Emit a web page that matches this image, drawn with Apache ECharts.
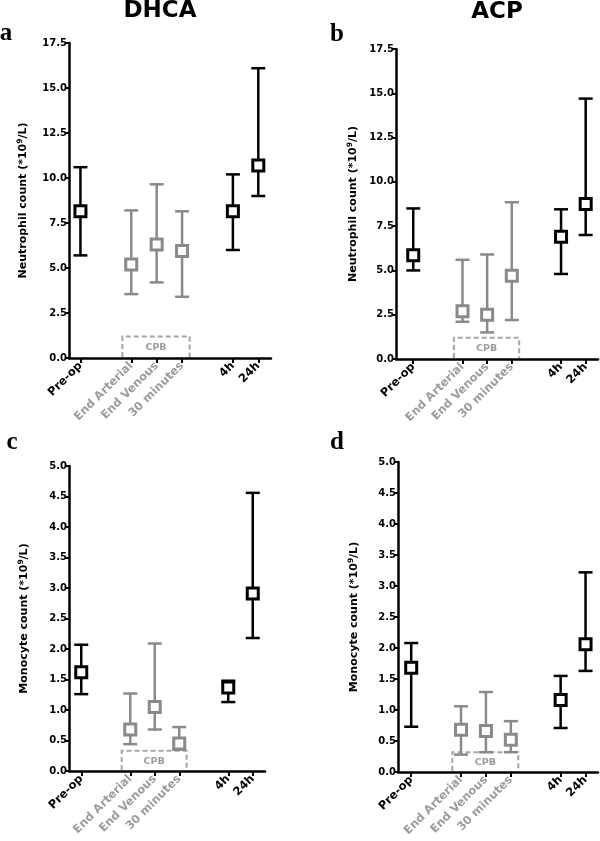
<!DOCTYPE html>
<html><head><meta charset="utf-8">
<script src="https://cdn.jsdelivr.net/npm/echarts@6/dist/echarts.min.js"></script>
<style>html,body{margin:0;padding:0;background:#fff}#c{width:600px;height:841px}</style>
</head><body><div id="c"></div>
<script>
// ---- data ----
const categories = ['Pre-op', 'End Arterial', 'End Venous', '30 minutes', '4h', '24h'];
const slots = [1, 3, 4, 5, 7, 8];               // ordinal slot of each category (gaps between phases)
const cpbCategories = ['End Arterial', 'End Venous', '30 minutes'];

const neutroDHCA_mid  = [8.15, 5.2, 6.3, 5.95, 8.15, 10.7];
const neutroDHCA_low  = [5.7, 3.55, 4.2, 3.4, 6.0, 9.0];
const neutroDHCA_high = [10.6, 8.2, 9.65, 8.15, 10.2, 16.1];

const neutroACP_mid  = [5.85, 2.7, 2.5, 4.7, 6.9, 8.75];
const neutroACP_low  = [5.0, 2.1, 1.5, 2.2, 4.8, 7.0];
const neutroACP_high = [8.5, 5.6, 5.9, 8.85, 8.45, 14.7];

const monoDHCA_mid  = [1.62, 0.68, 1.05, 0.45, 1.37, 2.91];
const monoDHCA_low  = [1.26, 0.44, 0.68, 0.35, 1.13, 2.18];
const monoDHCA_high = [2.07, 1.27, 2.09, 0.72, 1.48, 4.56];

const monoACP_mid  = [1.68, 0.68, 0.66, 0.52, 1.16, 2.06];
const monoACP_low  = [0.73, 0.28, 0.32, 0.32, 0.71, 1.63];
const monoACP_high = [2.08, 1.06, 1.29, 0.82, 1.55, 3.22];

const cpbBoxTop = [1.2, 1.2, 0.33, 0.32];
const neutroTicks = [0, 17.5, 2.5];
const monoTicks = [0, 5, 0.5];

// ---- styles ----
const FONT = '"DejaVu Sans", "Liberation Sans", Arial, sans-serif';
const BLACK = '#000000', GREY = '#8a8a8a', BOXGREY = '#a6a6a6', LABELGREY = '#9c9c9c';

const chart = echarts.init(document.getElementById('c'), null, {renderer: 'canvas'});

const panels = [
  {grid: {left: 69, top: 43, width: 202, height: 315}, xmin: 0.55, xmax: 8.5, ticks: neutroTicks,
   yname: 'Neutrophil count (*10', nameGap: 39, mid: neutroDHCA_mid, low: neutroDHCA_low, high: neutroDHCA_high, box: cpbBoxTop[0]},
  {grid: {left: 396, top: 49, width: 202, height: 310}, xmin: 0.3, xmax: 8.5, ticks: neutroTicks,
   yname: 'Neutrophil count (*10', nameGap: 36, mid: neutroACP_mid, low: neutroACP_low, high: neutroACP_high, box: cpbBoxTop[1]},
  {grid: {left: 69, top: 466, width: 196, height: 305}, xmin: 0.5, xmax: 8.5, ticks: monoTicks,
   yname: 'Monocyte count (*10', nameGap: 38, mid: monoDHCA_mid, low: monoDHCA_low, high: monoDHCA_high, box: cpbBoxTop[2]},
  {grid: {left: 398, top: 462, width: 200, height: 310}, xmin: 0.47, xmax: 8.5, ticks: monoTicks,
   yname: 'Monocyte count (*10', nameGap: 37, mid: monoACP_mid, low: monoACP_low, high: monoACP_high, box: cpbBoxTop[3]}
];

const isCpb = name => cpbCategories.indexOf(name) >= 0;
const grids = [], xAxes = [], yAxes = [], series = [];

panels.forEach((p, i) => {
  grids.push(Object.assign({containLabel: false}, p.grid));
  xAxes.push({
    type: 'value', gridIndex: i, min: p.xmin, max: p.xmax,
    axisLine: {show: true, onZero: false, lineStyle: {color: BLACK, width: 2.5}},
    axisTick: {show: true, customValues: slots, length: 5, lineStyle: {color: BLACK, width: 2}},
    axisLabel: {
      show: true, customValues: slots, rotate: 45, margin: 6,
      formatter: v => {
        const k = slots.indexOf(Math.round(v));
        if (k < 0) return '';
        const n = categories[k];
        return isCpb(n) ? '{g|' + n + '}' : '{k|' + n + '}';
      },
      rich: {
        g: {color: LABELGREY, fontFamily: FONT, fontWeight: 'bold', fontSize: 11.5},
        k: {color: BLACK, fontFamily: FONT, fontWeight: 'bold', fontSize: 11.5}
      }
    },
    splitLine: {show: false}
  });
  yAxes.push({
    type: 'value', gridIndex: i, min: p.ticks[0], max: p.ticks[1], interval: p.ticks[2],
    name: '{a|' + p.yname + '}{s|9}{a|/L)}',
    nameLocation: 'middle', nameGap: p.nameGap, nameRotate: 90,
    nameTextStyle: {
      rich: {
        a: {fontFamily: FONT, fontWeight: 'bold', fontSize: 11, color: BLACK, lineHeight: 14},
        s: {fontFamily: FONT, fontWeight: 'bold', fontSize: 7.5, color: BLACK, verticalAlign: 'top', lineHeight: 14, padding: [0, 0, 4, 0]}
      }
    },
    axisLine: {show: true, lineStyle: {color: BLACK, width: 2.5}},
    axisTick: {show: true, length: 4, lineStyle: {color: BLACK, width: 2}},
    axisLabel: {fontFamily: FONT, fontWeight: 'bold', fontSize: 10, color: BLACK, margin: 2,
                formatter: v => v.toFixed(1)},
    splitLine: {show: false}
  });

  // CPB dashed box
  const firstC = slots[categories.indexOf(cpbCategories[0])];
  const lastC = slots[categories.indexOf(cpbCategories[cpbCategories.length - 1])];
  series.push({
    type: 'custom', xAxisIndex: i, yAxisIndex: i, z: 1, silent: true,
    data: [[firstC, lastC, p.box]],
    renderItem: (params, api) => {
      const l = api.coord([api.value(0) - 0.35, api.value(2)]);
      const r = api.coord([api.value(1) + 0.3, 0]);
      const b = r[1], t = l[1];
      return {
        type: 'group', children: [
          {type: 'polyline', shape: {points: [[l[0], b - 1], [l[0], t], [r[0], t], [r[0], b - 1]]},
           style: {fill: null, stroke: BOXGREY, lineWidth: 2, lineDash: [5, 3]}},
          {type: 'text', x: (l[0] + r[0]) / 2, y: (t + b) / 2 + 0.5,
           style: {text: 'CPB', fill: LABELGREY, font: 'bold 9.5px ' + FONT, align: 'center', verticalAlign: 'middle'}}
        ]
      };
    }
  });

  // error bars
  series.push({
    type: 'custom', xAxisIndex: i, yAxisIndex: i, z: 2, silent: true,
    data: categories.map((n, k) => [slots[k], p.low[k], p.high[k], isCpb(n) ? 1 : 0]),
    renderItem: (params, api) => {
      const x = api.value(0);
      const lo = api.coord([x, api.value(1)]);
      const hi = api.coord([x, api.value(2)]);
      const col = api.value(3) ? GREY : BLACK;
      const w = 7;
      const st = {stroke: col, lineWidth: 2.5, fill: null};
      return {
        type: 'group', children: [
          {type: 'line', shape: {x1: lo[0], y1: lo[1], x2: hi[0], y2: hi[1]}, style: st},
          {type: 'line', shape: {x1: lo[0] - w, y1: lo[1], x2: lo[0] + w, y2: lo[1]}, style: st},
          {type: 'line', shape: {x1: hi[0] - w, y1: hi[1], x2: hi[0] + w, y2: hi[1]}, style: st}
        ]
      };
    }
  });

  // median squares
  series.push({
    type: 'scatter', xAxisIndex: i, yAxisIndex: i, z: 3, silent: true,
    symbol: 'rect', symbolSize: 11,
    data: categories.map((n, k) => ({
      value: [slots[k], p.mid[k]],
      itemStyle: {color: '#ffffff', opacity: 1, borderColor: isCpb(n) ? GREY : BLACK, borderWidth: 3}
    }))
  });
});

const titleFont = 'bold 23px ' + FONT;
const letterFont = 'bold 25px "Liberation Serif", "Times New Roman", serif';
const graphic = [
  {type: 'text', x: 160, y: 11, style: {text: 'DHCA', font: titleFont, fill: BLACK, align: 'center', verticalAlign: 'middle'}},
  {type: 'text', x: 497, y: 12, style: {text: 'ACP', font: titleFont, fill: BLACK, align: 'center', verticalAlign: 'middle'}},
  {type: 'text', x: 6, y: 34, style: {text: 'a', font: letterFont, fill: BLACK, align: 'center', verticalAlign: 'middle'}},
  {type: 'text', x: 337, y: 35, style: {text: 'b', font: letterFont, fill: BLACK, align: 'center', verticalAlign: 'middle'}},
  {type: 'text', x: 12, y: 443, style: {text: 'c', font: letterFont, fill: BLACK, align: 'center', verticalAlign: 'middle'}},
  {type: 'text', x: 337, y: 443, style: {text: 'd', font: letterFont, fill: BLACK, align: 'center', verticalAlign: 'middle'}}
];

chart.setOption({
  animation: false, backgroundColor: '#ffffff',
  grid: grids, xAxis: xAxes, yAxis: yAxes, series: series, graphic: graphic
});
</script></body></html>
